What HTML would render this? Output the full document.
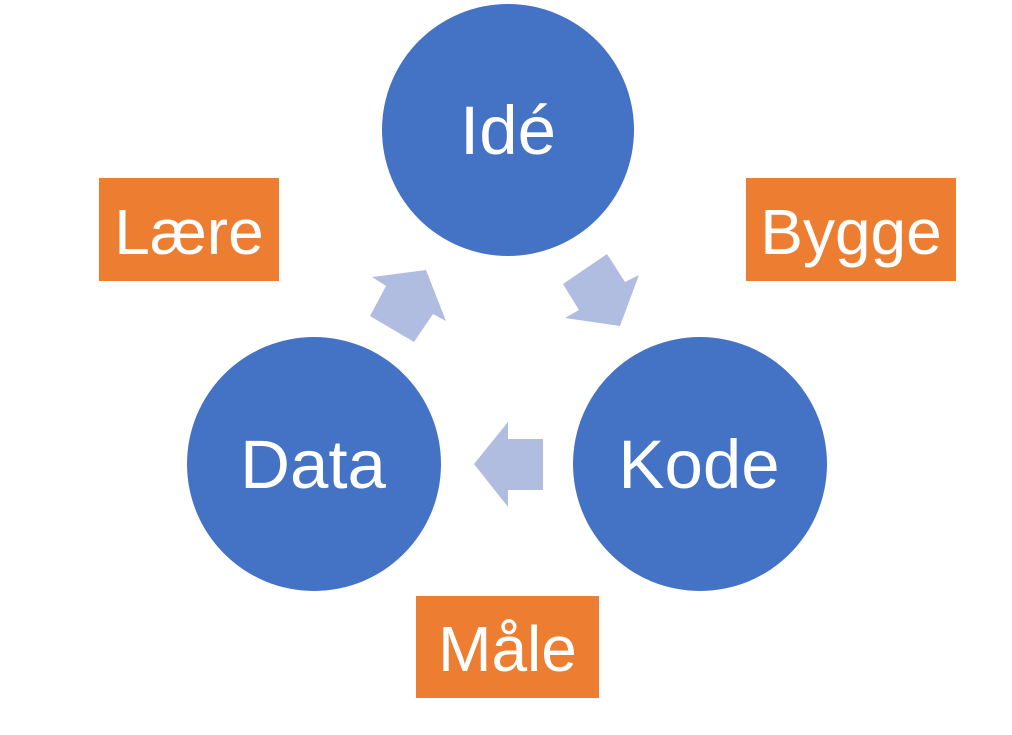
<!DOCTYPE html>
<html><head><style>
html,body{margin:0;padding:0;background:#fff;}
body{width:1012px;height:735px;position:relative;overflow:hidden;font-family:"Liberation Sans",sans-serif;}
.b{position:absolute;background:#ed7d31;color:#fff;font-size:64px;display:flex;align-items:center;justify-content:center;padding-top:4px;box-sizing:border-box;}
</style></head><body>
<svg width="1012" height="735" style="position:absolute;left:0;top:0">
<circle cx="508" cy="130" r="126" fill="#4472c4"/>
<circle cx="314" cy="464" r="127" fill="#4472c4"/>
<circle cx="700" cy="464" r="127" fill="#4472c4"/>
<polygon points="474,464 508,422 508,439 543,439 543,490 508,490 508,507" fill="#b0bde0"/>
<polygon points="372,277 426,270 446,321 433,314 414,342 370,316 386,286" fill="#b0bde0"/>
<polygon points="563,284 607,254 625,282 639,275 620,326 565,318 579,310" fill="#b0bde0"/>
<g fill="#fff" font-family="Liberation Sans, sans-serif" font-size="69" text-anchor="middle">
<text x="508" y="154">Idé</text>
<text x="313" y="488">Data</text>
<text x="699" y="488">Kode</text>
</g>
</svg>
<div class="b" style="left:99px;top:178px;width:180px;height:103px;">Lære</div>
<div class="b" style="left:746px;top:178px;width:210px;height:103px;">Bygge</div>
<div class="b" style="left:416px;top:596px;width:183px;height:102px;">Måle</div>
</body></html>
